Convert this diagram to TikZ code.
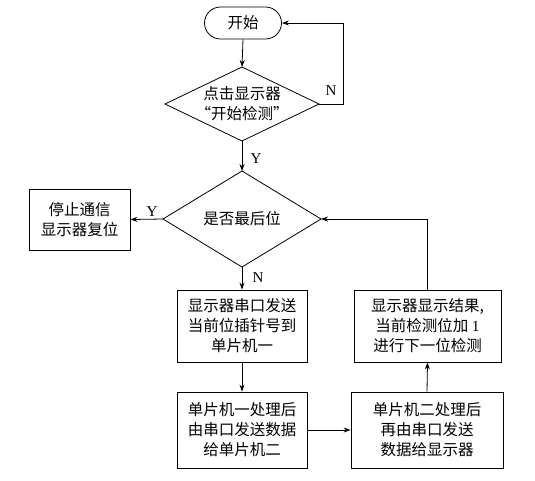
\documentclass[tikz,border=0pt]{standalone}
\usepackage{fontspec}
\setmainfont{Liberation Serif}
\newfontfamily\cjk{Noto Sans CJK SC}
\usetikzlibrary{arrows.meta,calc}
\begin{document}
\begin{tikzpicture}[x=1pt,y=-1pt,
  every node/.style={font=\cjk\fontsize{15.5}{20}\selectfont},
  line/.style={line width=0.8pt},
  arr/.style={line width=0.8pt,-{Stealth[length=7pt,width=5pt]}},
  procbox/.style={draw,line width=0.8pt,align=center,inner sep=0pt},
  lab/.style={font=\rmfamily\fontsize{15}{18}\selectfont}]
\useasboundingbox (0,0) rectangle (535,480);
% start
\node[draw,line width=0.8pt,rounded corners=16pt,minimum width=77pt,minimum height=32pt,inner sep=0pt] (start) at (243,23) {开始};
% diamond 1
\coordinate (d1t) at (242,67);
\coordinate (d1b) at (242,141);
\coordinate (d1l) at (165,104);
\coordinate (d1r) at (319,104);
\draw[line] (d1t) -- (d1r) -- (d1b) -- (d1l) -- cycle;
\node[align=center] (d1) at (242,104) {点击显示器\\“开始检测”};
% diamond 2
\coordinate (d2t) at (242,171);
\coordinate (d2b) at (242,267);
\coordinate (d2l) at (163,219);
\coordinate (d2r) at (321,219);
\draw[line] (d2t) -- (d2r) -- (d2b) -- (d2l) -- cycle;
\node (d2) at (242,219) {是否最后位};
% boxes
\node[procbox,minimum width=101pt,minimum height=61pt] (stop) at (79.5,219.5) {停止通信\\显示器复位};
\node[procbox,minimum width=130pt,minimum height=72pt] (A) at (242,326) {显示器串口发送\\当前位插针号到\\单片机一};
\node[procbox,minimum width=130pt,minimum height=76pt] (B) at (242,430) {单片机一处理后\\由串口发送数据\\给单片机二};
\node[procbox,minimum width=152pt,minimum height=76pt] (C) at (427,430) {单片机二处理后\\再由串口发送\\数据给显示器};
\node[procbox,minimum width=147pt,minimum height=72pt] (D) at (427.5,326) {显示器显示结果,\\当前检测位加 {\rmfamily 1}\\进行下一位检测};
% connectors
\draw[arr] (start.south) -- (d1t);
\coordinate (nloop) at (343,104);
\draw[arr] (d1r) -- (nloop) |- (start.east);
\node[lab] (nl) at (331,91) {N};
\draw[arr] (d1b) -- (d2t);
\node[lab] (yl1) at (256,159) {Y};
\draw[arr] (d2l) -- (stop.east);
\node[lab] (yl2) at (152,212) {Y};
\draw[arr] (d2b) -- (A.north);
\node[lab] (nl2) at (258,278) {N};
\draw[arr] (A.south) -- (B.north);
\draw[arr] (B.east) -- (C.west);
\draw[arr] (C.north) -- (D.south);
\draw[arr] (D.north) |- (d2r);
\end{tikzpicture}
\end{document}
